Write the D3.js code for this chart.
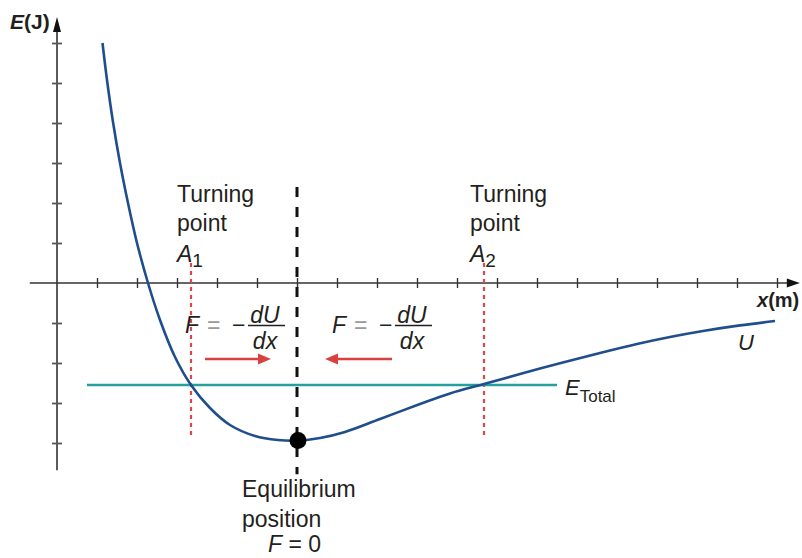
<!DOCTYPE html>
<html>
<head>
<meta charset="utf-8">
<script src="https://cdn.jsdelivr.net/npm/d3@7"></script>
<style>
  body { margin: 0; background: #fff; }
  text { font-family: "Liberation Sans", Arial, sans-serif; fill: #231f20; }
</style>
</head>
<body>
<script>
// potential energy curve U(x) (x in m, E in J)
var curveX = [1.1375, 1.25, 1.4, 1.575, 1.775, 2.0, 2.275, 2.575, 2.95, 3.35, 3.825, 4.325, 4.95, 5.525, 6.025, 6.575, 7.2, 8.075, 9.075, 9.825, 10.675, 12.075, 13.575, 14.5, 15.325, 16.15, 17.075, 17.95];
var curveU = [6.0, 5.075, 4.025, 3.0, 2.0, 1.0, 0, -0.925, -1.85, -2.55, -3.125, -3.55, -3.825, -3.925, -3.94, -3.875, -3.725, -3.4, -3.025, -2.76, -2.525, -2.14, -1.75, -1.525, -1.35, -1.2, -1.06, -0.95];

var xTicks = [1, 2, 3, 4, 5, 6, 7, 8, 9, 10, 11, 12, 13, 14, 15, 16, 17, 18];
var yTicks = [-4, -3, -2, -1, 1, 2, 3, 4, 5, 6];

var eTotal = -2.55;
var eTotalFrom = [0.75, 12.5];   // where the E_total line starts and stops
var turningX = [3.35, 10.675];   // A1, A2
var equilibrium = [6.025, -3.94];
var turningLabels = ["1", "2"];

var width = 802, height = 558;

var svg = d3.select("body").append("svg")
  .attr("width", width)
  .attr("height", height);

// 40px per unit, origin at (57, 283)
var x = d3.scaleLinear().domain([0, 18]).range([57, 777]);
var y = d3.scaleLinear().domain([0, 6]).range([283, 43]);

var axisColor = "#333";

// axis lines
svg.append("line")
  .attr("x1", x(-0.68)).attr("x2", x(18.35))
  .attr("y1", y(0)).attr("y2", y(0))
  .attr("stroke", axisColor).attr("stroke-width", 1.6);
svg.append("line")
  .attr("x1", x(0)).attr("x2", x(0))
  .attr("y1", y(-4.68)).attr("y2", y(6.45))
  .attr("stroke", axisColor).attr("stroke-width", 1.6);

// arrow heads
svg.append("path")
  .attr("d", `M${x(18.57)},${y(0)} L${x(18.57) - 13},${y(0) - 4.5} L${x(18.57) - 13},${y(0) + 4.5} Z`)
  .attr("fill", "#111");
svg.append("path")
  .attr("d", `M${x(0)},${y(6.65)} L${x(0) - 4},${y(6.65) + 15} L${x(0) + 4},${y(6.65) + 15} Z`)
  .attr("fill", "#111");

// ticks crossing the axes
var xAxis = d3.axisBottom(x).tickValues(xTicks).tickSize(10).tickFormat("");
var gx = svg.append("g")
  .attr("transform", `translate(0, ${y(0) - 5})`)
  .call(xAxis);
gx.select(".domain").remove();
gx.selectAll(".tick line").attr("stroke", axisColor).attr("stroke-width", 1.4);

var yAxis = d3.axisLeft(y).tickValues(yTicks).tickSize(10).tickFormat("");
var gy = svg.append("g")
  .attr("transform", `translate(${x(0) + 5}, 0)`)
  .call(yAxis);
gy.select(".domain").remove();
gy.selectAll(".tick line").attr("stroke", "#555").attr("stroke-width", 1.8);

// axis titles
var eLabel = svg.append("text")
  .attr("x", 10).attr("y", 29)
  .style("font-size", "21px").style("font-weight", "bold");
eLabel.append("tspan").style("font-style", "italic").text("E");
eLabel.append("tspan").text("(J)");

var xLabel = svg.append("text")
  .attr("x", 757).attr("y", 307)
  .style("font-size", "20px").style("font-weight", "bold");
xLabel.append("tspan").style("font-style", "italic").text("x");
xLabel.append("tspan").text("(m)");

// turning point dotted lines
svg.selectAll(".turn")
  .data(turningX)
  .enter()
  .append("line")
  .attr("class", "turn")
  .attr("x1", d => x(d)).attr("x2", d => x(d))
  .attr("y1", y(0.5)).attr("y2", y(-3.9))
  .attr("stroke", "#e0454a")
  .attr("stroke-width", 2.2)
  .attr("stroke-dasharray", "4,4");

// equilibrium dashed line
svg.append("line")
  .attr("x1", x(equilibrium[0]) - 1).attr("x2", x(equilibrium[0]) - 1)
  .attr("y1", y(2.4)).attr("y2", y(-4.78))
  .attr("stroke", "#111")
  .attr("stroke-width", 3)
  .attr("stroke-dasharray", "10,10");

// E total line
svg.append("line")
  .attr("x1", x(eTotalFrom[0])).attr("x2", x(eTotalFrom[1]))
  .attr("y1", y(eTotal)).attr("y2", y(eTotal))
  .attr("stroke", "#25a09c")
  .attr("stroke-width", 2.6);

// U curve
var pts = curveX.map((d, i) => [d, curveU[i]]);
var line = d3.line()
  .x(d => x(d[0]))
  .y(d => y(d[1]))
  .curve(d3.curveCatmullRom.alpha(0.5));

svg.append("path")
  .datum(pts)
  .attr("d", line)
  .attr("fill", "none")
  .attr("stroke", "#1f4e8c")
  .attr("stroke-width", 2.6);

// equilibrium point
svg.append("circle")
  .attr("cx", x(equilibrium[0]))
  .attr("cy", y(equilibrium[1]))
  .attr("r", 8.5)
  .attr("fill", "#000");

// force arrows
var red = "#d8413f";
function arrow(x1, x2, yy) {
  var dir = x2 > x1 ? 1 : -1;
  svg.append("line")
    .attr("x1", x1).attr("x2", x2 - dir * 10)
    .attr("y1", yy).attr("y2", yy)
    .attr("stroke", red).attr("stroke-width", 2.6);
  svg.append("path")
    .attr("d", `M${x2},${yy} L${x2 - dir * 13},${yy - 5.5} L${x2 - dir * 13},${yy + 5.5} Z`)
    .attr("fill", red);
}
arrow(x(equilibrium[0]) - 93, x(equilibrium[0]) - 27, y(-1.9));
arrow(x(equilibrium[0]) + 94, x(equilibrium[0]) + 27, y(-1.9));

// F = -dU/dx formulas
function formula(x0, base) {
  var fs = "23px";
  svg.append("text").attr("x", x0).attr("y", base + 10)
    .style("font-size", fs).style("font-style", "italic").text("F");
  svg.append("text").attr("x", x0 + 22).attr("y", base + 10)
    .style("font-size", fs).style("fill", "#9a9a9a").text("=");
  svg.append("text").attr("x", x0 + 47).attr("y", base + 10)
    .style("font-size", fs).text("\u2212");
  var fx = x0 + 63;
  svg.append("text")
    .attr("x", fx + 17).attr("y", base)
    .attr("text-anchor", "middle")
    .style("font-size", fs).style("font-style", "italic")
    .text("dU");
  svg.append("line")
    .attr("x1", fx).attr("x2", fx + 37)
    .attr("y1", base + 2.5).attr("y2", base + 2.5)
    .attr("stroke", "#231f20").attr("stroke-width", 1.3);
  svg.append("text")
    .attr("x", fx + 17).attr("y", base + 25.5)
    .attr("text-anchor", "middle")
    .style("font-size", fs).style("font-style", "italic")
    .text("dx");
}
formula(x(turningX[0]) - 6, y(-1));
formula(x(equilibrium[0]) + 34, y(-1));

// turning point labels
turningX.forEach(function(d, i) {
  var lx = x(d) - 14;
  svg.append("text").attr("x", lx).attr("y", y(2.03)).style("font-size", "23px").text("Turning");
  svg.append("text").attr("x", lx).attr("y", y(1.3)).style("font-size", "23px").text("point");
  var a = svg.append("text").attr("x", lx).attr("y", y(0.53)).style("font-size", "23px");
  a.append("tspan").style("font-style", "italic").text("A");
  a.append("tspan").attr("dy", 5).style("font-size", "19px").text(turningLabels[i]);
});

// equilibrium label
var ex = x(equilibrium[0]) - 56;
svg.append("text").attr("x", ex).attr("y", 497).style("font-size", "23px").text("Equilibrium");
svg.append("text").attr("x", ex).attr("y", 527).style("font-size", "23px").text("position");
var f0 = svg.append("text").attr("x", ex + 26).attr("y", 552).style("font-size", "23px");
f0.append("tspan").style("font-style", "italic").text("F");
f0.append("tspan").text(" = 0");

// curve labels
svg.append("text")
  .attr("x", 738).attr("y", 350)
  .style("font-size", "22px").style("font-style", "italic")
  .text("U");

var et = svg.append("text")
  .attr("x", 565).attr("y", 395)
  .style("font-size", "22px");
et.append("tspan").style("font-style", "italic").text("E");
et.append("tspan").attr("dy", 7).style("font-size", "17px").text("Total");
</script>
</body>
</html>
